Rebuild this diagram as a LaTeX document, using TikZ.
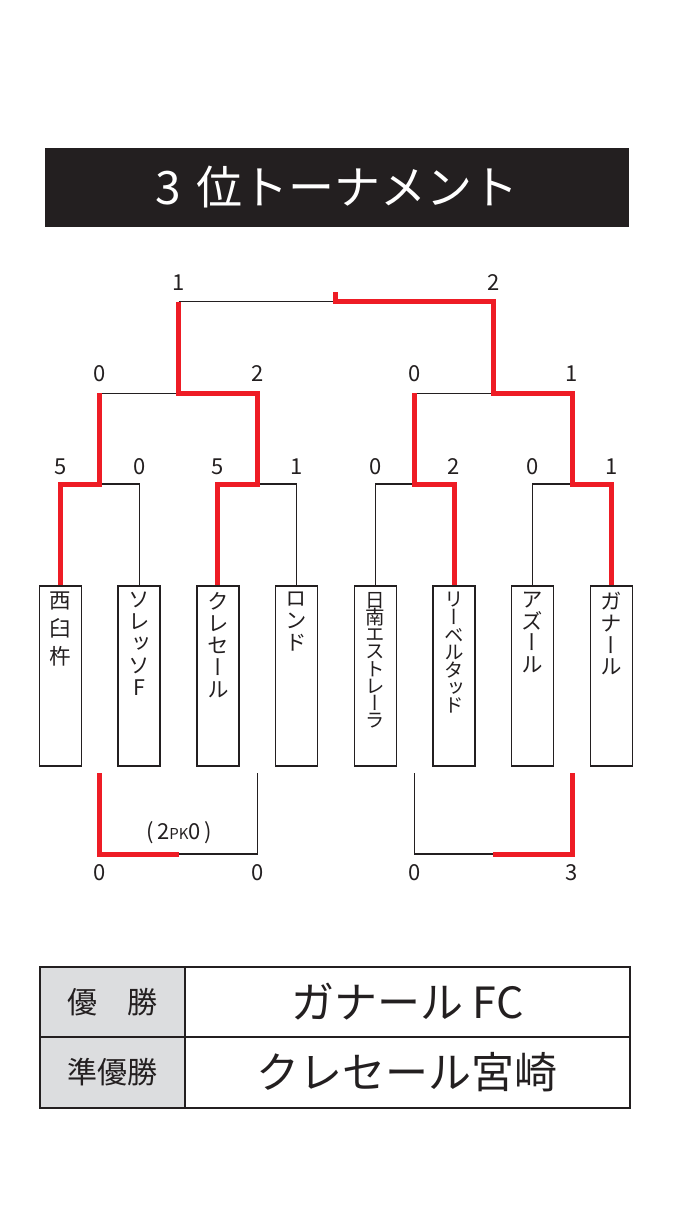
\documentclass[tikz,border=0pt]{standalone}
\usepackage{fontspec}
\setmainfont{Noto Sans CJK JP}
\newfontfamily\tatefont[RawFeature=+vert]{Noto Sans CJK JP}
\usetikzlibrary{positioning}
\definecolor{ink}{HTML}{231F20}
\definecolor{winred}{HTML}{EE1C25}
\definecolor{cellgrey}{HTML}{DCDDDF}
\setlength{\lineskiplimit}{-30pt}
\tikzset{
  team/.style={draw=ink, line width=1.5pt, minimum width=42pt, minimum height=180pt, anchor=north, inner sep=0pt},
  tname/.style 2 args={anchor=north, inner sep=0pt, align=center, text=ink, font={\tatefont\fontsize{#1}{#2}\selectfont}},
  score/.style={font=\fontsize{22}{22}\selectfont, text=ink, inner sep=0pt},
  lose/.style={draw=ink, line width=1.3pt},
  win/.style={draw=winred, line width=5pt},
  cell/.style={draw=ink, line width=1.8pt, anchor=north west, inner sep=0pt, text=ink},
}
\begin{document}
\begin{tikzpicture}[x=1pt,y=-1pt]
		\useasboundingbox (0,0) rectangle (678,1209);
		\node[fill=ink, minimum width=583.7pt, minimum height=78.4pt, text=white, font=\fontsize{46}{46}\selectfont] (title) at (336.85,187.5) {3\,\,位トーナメント};
		% teams
		\node[team] (t1) at (60.5,585) {};
		\node[team] (t2) at (139.2,585) {};
		\node[team] (t3) at (217.9,585) {};
		\node[team] (t4) at (296.6,585) {};
		\node[team] (t5) at (375.3,585) {};
		\node[team] (t6) at (454,585) {};
		\node[team] (t7) at (532.7,585) {};
		\node[team] (t8) at (611.4,585) {};
		\node[tname={21.5}{28}, below=7pt of t1.north] (n1) {西\\臼\\杵};
		\node[tname={21.5}{22}, below=7pt of t2.north] (n2) {ソ\\レ\\ッ\\ソ\\F};
		\node[tname={21.5}{22}, below=7pt of t3.north] (n3) {ク\\レ\\セ\\ー\\ル};
		\node[tname={21.5}{22}, below=7pt of t4.north] (n4) {ロ\\ン\\ド};
		\node[tname={19.5}{17.2}, below=7pt of t5.north] (n5) {日\\南\\エ\\ス\\ト\\レ\\ー\\ラ};
		\node[tname={19.5}{17.7}, below=7pt of t6.north] (n6) {リ\\ー\\ベ\\ル\\タ\\ッ\\ド};
		\node[tname={21.5}{21.7}, below=7pt of t7.north] (n7) {ア\\ズ\\ー\\ル};
		\node[tname={21.5}{21.7}, below=7pt of t8.north] (n8) {ガ\\ナ\\ー\\ル};
		% junctions
		\coordinate (m1) at (99.85,484);
		\coordinate (m2) at (257.25,484);
		\coordinate (m3) at (414.65,484);
		\coordinate (m4) at (572.05,484);
		\coordinate (s1) at (178.55,393.3);
		\coordinate (s2) at (493.35,393.3);
		\coordinate (f) at (335.95,301.7);
		\coordinate (ftop) at (335.95,292);
		\coordinate (q1) at (99.85,773);
		\coordinate (q2) at (257.25,773);
		\coordinate (q3) at (414.65,773);
		\coordinate (q4) at (572.05,773);
		\coordinate (p1) at (178.55,854);
		\coordinate (p2) at (493.35,854);
		\coordinate (lv1) at (0,466.7);
		\coordinate (lv2) at (0,373.5);
		\coordinate (lv3) at (0,283);
		\coordinate (lv4) at (0,873);
		% losing lines
		\draw[lose] (t2.north) |- (m1);
		\draw[lose] (t4.north) |- (m2);
		\draw[lose] (t5.north) |- (m3);
		\draw[lose] (t7.north) |- (m4);
		\draw[lose] (m1 |- s1) -- (s1);
		\draw[lose] (m3 |- s2) -- (s2);
		\draw[lose] (s1 |- f) -- (f);
		\draw[lose] (p1) -| (q2);
		\draw[lose] (q3) |- (p2);
		% winning lines
		\draw[win] (t1.north) |- (m1) -- (m1 |- s1);
		\draw[win] (t3.north) |- (m2) |- (s1) -- (s1 |- f);
		\draw[win] (t6.north) |- (m3) -- (m3 |- s2);
		\draw[win] (t8.north) |- (m4) |- (s2) |- (f) -- (ftop);
		\draw[win] (q1) |- (p1);
		\draw[win] (p2) -| (q4);
		% scores
		\foreach \i/\s in {1/5,2/0,3/5,4/1,5/0,6/2,7/0,8/1}
			\node[score] (a\i) at (t\i.north |- lv1) {\s};
		\foreach \j/\s in {1/0,2/2,3/0,4/1}
			\node[score] (b\j) at (m\j |- lv2) {\s};
		\node[score] (c1) at (s1 |- lv3) {1};
		\node[score] (c2) at (s2 |- lv3) {2};
		\foreach \j/\s in {1/0,2/0,3/0,4/3}
			\node[score] (d\j) at (q\j |- lv4) {\s};
		\node[score] (pk) at (179,833) {(\,2{\fontsize{15}{15}\selectfont PK}0\,)};
		% results table
		\node[cell, fill=cellgrey, minimum width=145.3pt, minimum height=70.3pt, font=\fontsize{30}{30}\selectfont] (r1) at (39,965.7) {優　勝};
		\node[cell, fill=cellgrey, minimum width=145.3pt, minimum height=70.7pt, font=\fontsize{30}{30}\selectfont] (r2) at (39,1036) {準優勝};
		\node[cell, minimum width=444.4pt, minimum height=70.3pt, font=\fontsize{43}{43}\selectfont] (w1) at (184.3,965.7) {ガナール FC};
		\node[cell, minimum width=444.4pt, minimum height=70.7pt, font=\fontsize{43}{43}\selectfont] (w2) at (184.3,1036) {クレセール宮崎};
\end{tikzpicture}
\end{document}
